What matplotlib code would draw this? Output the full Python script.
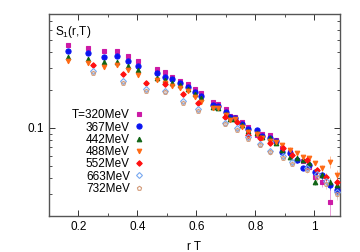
import matplotlib
matplotlib.use("Agg")
import matplotlib.pyplot as plt
from matplotlib.ticker import MultipleLocator, FixedLocator, NullFormatter, FixedFormatter

plt.rcParams['font.family'] = ['Liberation Sans', 'DejaVu Sans']
plt.rcParams['mathtext.default'] = 'regular'

# rT positions shared by the four lowest temperatures
x_main = [0.164, 0.232, 0.286, 0.330, 0.368, 0.402, 0.466, 0.493, 0.517, 0.544,
          0.571, 0.595, 0.615, 0.656, 0.673, 0.700, 0.714, 0.731, 0.754, 0.775,
          0.805, 0.822, 0.849, 0.869, 0.890, 0.917, 0.941, 0.961, 0.981, 1.002,
          1.025, 1.053, 1.076]

s1_320 = [0.455, 0.431, 0.408, 0.408, 0.372, 0.340, 0.294, 0.278, 0.254, 0.236,
          0.223, 0.204, 0.189, 0.161, 0.155, 0.141, 0.124, 0.122, 0.111, 0.102,
          0.088, 0.090, 0.088, 0.080, 0.069, 0.064, 0.056, 0.055, 0.049, 0.041,
          0.037, 0.026, 0.033]
s1_367 = [0.408, 0.394, 0.366, 0.372, 0.340, 0.310, 0.273, 0.254, 0.245, 0.227,
          0.211, 0.193, 0.179, 0.152, 0.149, 0.134, 0.122, 0.120, 0.107, 0.098,
          0.096, 0.086, 0.083, 0.079, 0.064, 0.063, 0.056, 0.048, 0.051, 0.045,
          0.042, 0.035, 0.032]
s1_442 = [0.366, 0.352, 0.333, 0.333, 0.310, 0.288, 0.249, 0.240, 0.227, 0.219,
          0.204, 0.186, 0.173, 0.147, 0.144, 0.129, 0.118, 0.118, 0.105, 0.095,
          0.091, 0.085, 0.083, 0.076, 0.067, 0.059, 0.058, 0.056, 0.053, 0.037,
          0.042, 0.037, 0.035]
s1_488 = [0.340, 0.327, 0.305, 0.316, 0.288, 0.263, 0.240, 0.227, 0.215, 0.208,
          0.196, 0.176, 0.161, 0.144, 0.144, 0.127, 0.116, 0.118, 0.102, 0.093,
          0.090, 0.083, 0.079, 0.077, 0.073, 0.067, 0.063, 0.059, 0.058, 0.053,
          0.048, 0.054, 0.042]

# higher temperatures sit on their own rT grid
x_high = [0.249, 0.351, 0.429, 0.493, 0.554, 0.605, 0.697, 0.737, 0.775, 0.815,
          0.849, 0.893, 0.924, 0.975, 1.008, 1.040, 1.076]
s1_552 = [0.316, 0.268, 0.227, 0.223, 0.186, 0.158, 0.122, 0.111, 0.088, 0.083,
          0.076, 0.069, 0.061, 0.056, 0.046, 0.041, 0.037]
s1_663 = [0.281, 0.234, 0.202, 0.198, 0.163, 0.141, 0.110, 0.099, 0.085, 0.075,
          0.066, 0.060, 0.054, 0.048, 0.043, 0.038, 0.031]
s1_732 = [0.275, 0.228, 0.197, 0.193, 0.158, 0.137, 0.107, 0.096, 0.082, 0.073,
          0.064, 0.058, 0.052, 0.046, 0.041, 0.036, 0.030]

# error bars on the last six points of each set
err_320 = [0.002, 0.002, 0.003, 0.003, 0.008, 0.004]
err_367 = [0.002, 0.002, 0.002, 0.003, 0.003, 0.003]
err_442 = [0.002, 0.002, 0.002, 0.003, 0.003, 0.003]
err_488 = [0.002, 0.002, 0.002, 0.003, 0.006, 0.004]
err_552 = [0.002, 0.002, 0.003, 0.003, 0.003, 0.003]
err_663 = [0.002, 0.002, 0.002, 0.003, 0.003, 0.003]
err_732 = [0.002, 0.002, 0.002, 0.003, 0.003, 0.003]

labels = ["T=320MeV", "367MeV", "442MeV", "488MeV", "552MeV", "663MeV", "732MeV"]

series = [
    (x_main, s1_320, err_320, 's', '#cc1aa6', True, 3.5),
    (x_main, s1_367, err_367, 'o', '#0a14f0', True, 3.7),
    (x_main, s1_442, err_442, '^', '#0f6414', True, 3.3),
    (x_main, s1_488, err_488, 'v', '#ff6a14', True, 3.3),
    (x_high, s1_552, err_552, 'D', '#ff1010', True, 2.8),
    (x_high, s1_663, err_663, 'D', '#78a8f0', False, 3.0),
    (x_high, s1_732, err_732, 'p', '#d29a78', False, 3.2),
]

fig = plt.figure(figsize=(3.6, 2.52), dpi=100)
ax = fig.add_axes([0.136, 0.143, 0.808, 0.801])

handles = []
for (xs, ys, tail, mk, col, filled, ms), lab in zip(series, labels):
    yerr = [0.003] * (len(ys) - len(tail)) + tail
    ax.errorbar(xs, ys, yerr=yerr, fmt='none', ecolor=col, elinewidth=0.5,
                capsize=0, alpha=0.6, zorder=2)
    h, = ax.plot(xs, ys, ls='none', marker=mk, ms=ms, color=col,
                 mfc=col if filled else 'none', mew=0.8, label=lab, zorder=3)
    handles.append(h)

ax.set_yscale('log')
ax.set_xlim(0.1, 1.087)
ax.set_ylim(0.02, 0.8)

ax.set_xticks([0.2, 0.4, 0.6, 0.8, 1.0])
ax.set_xticklabels(['0.2', '0.4', '0.6', '0.8', '1'])
ax.xaxis.set_minor_locator(MultipleLocator(0.1))
ax.yaxis.set_major_locator(FixedLocator([0.1]))
ax.yaxis.set_major_formatter(FixedFormatter(['0.1']))
ax.yaxis.set_minor_locator(FixedLocator([0.03, 0.04, 0.05, 0.06, 0.07, 0.08, 0.09,
                                         0.2, 0.3, 0.4, 0.5, 0.6, 0.7]))
ax.yaxis.set_minor_formatter(NullFormatter())

ax.tick_params(which='both', direction='in', top=True, right=True,
               labelsize=8.5, color='#333333')
ax.tick_params(which='major', length=4, width=0.7)
ax.tick_params(which='minor', length=2, width=0.6)
for sp in ax.spines.values():
    sp.set_color('#555555')
    sp.set_linewidth(1.0)

ax.set_xlabel('r T', fontsize=8.5, labelpad=6)
ax.text(0.02, 0.95, 'S$_1$(r,T)', transform=ax.transAxes, fontsize=8.5,
        ha='left', va='top')

leg = ax.legend(handles=handles, loc='upper right', bbox_to_anchor=(0.335, 0.54),
                frameon=False, markerfirst=False, fontsize=8.5, handlelength=0.8,
                handletextpad=0.4, labelspacing=0.02, borderpad=0.2,
                borderaxespad=0.0)
for t in leg.get_texts():
    t.set_ha('right')

fig.savefig('out.png', dpi=100)
